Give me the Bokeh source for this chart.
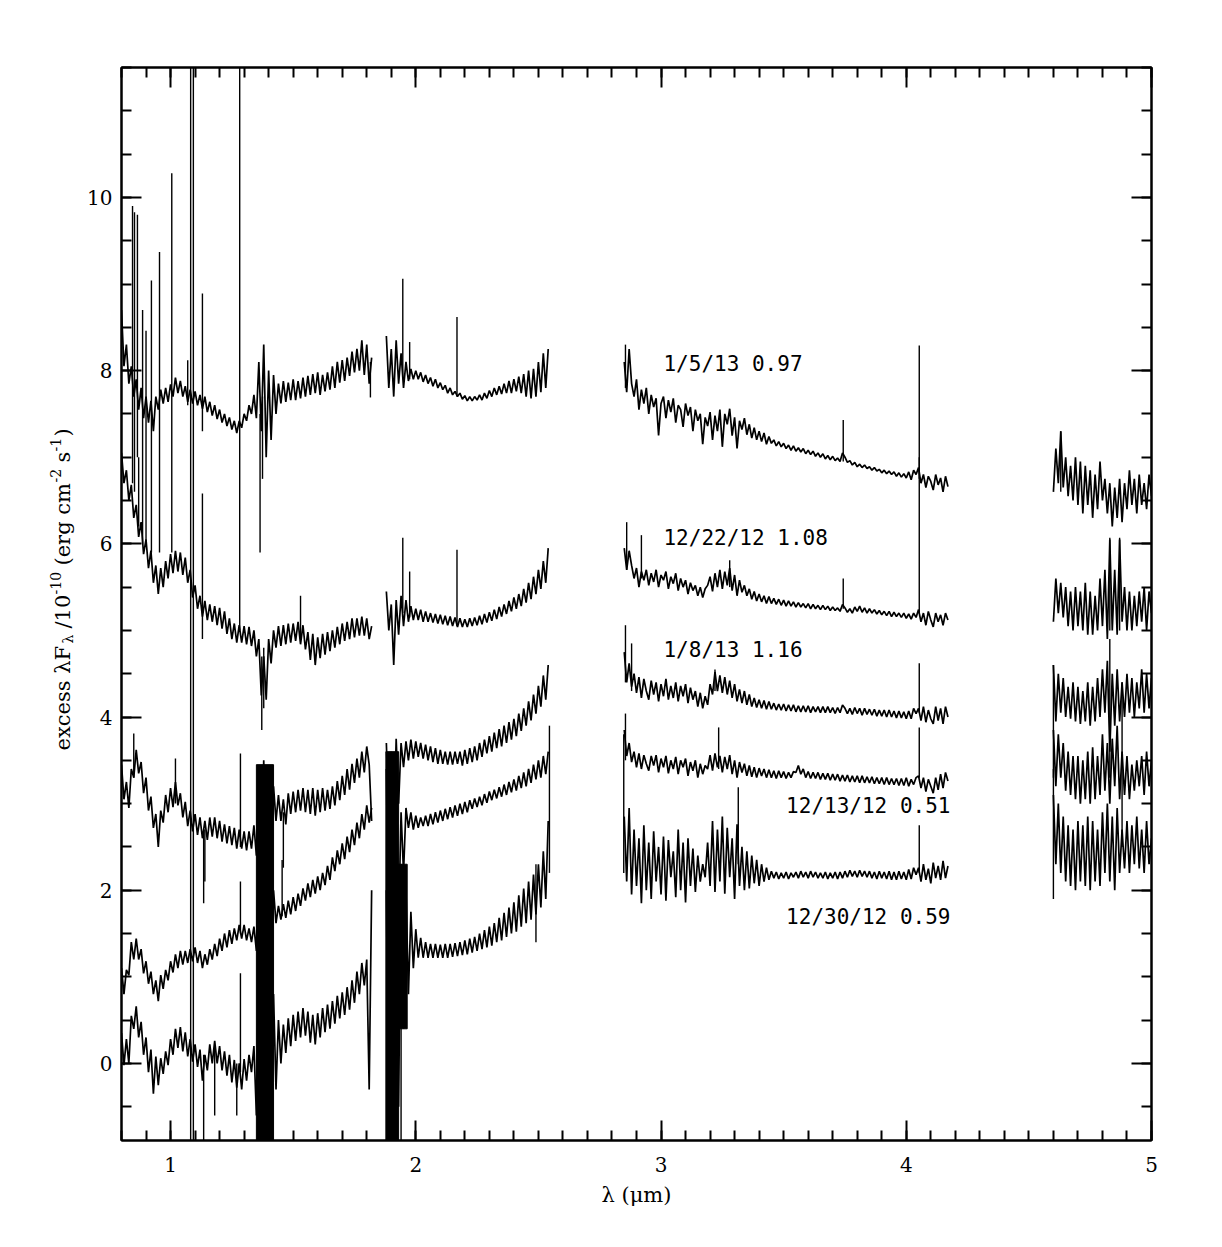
import numpy as np
from math import pi
from bokeh.plotting import figure
from bokeh.layouts import row
from bokeh.models import Range1d, LinearAxis, FixedTicker, CustomJSTickFormatter
from bokeh.core.properties import value
from bokeh.embed import file_html
from bokeh.resources import INLINE

# ---------------- data ----------------
# spectral segments: start wavelength (um) and sampling step (um)
seg_start = [0.80, 1.88, 2.85, 4.60]
seg_step = [0.01, 0.01, 0.01, 0.01]

# 1/5/13 (0.97)
jan05_s1 = [8.70, 8.05, 8.30, 7.85, 8.05, 7.70, 7.90, 7.55, 7.80, 7.45,
            7.70, 7.40, 7.65, 7.30, 7.70, 7.55, 7.78, 7.62, 7.80, 7.64,
            7.84, 7.70, 7.92, 7.74, 7.88, 7.70, 7.82, 7.64, 7.78, 7.62,
            7.76, 7.60, 7.72, 7.56, 7.70, 7.52, 7.64, 7.48, 7.60, 7.44,
            7.55, 7.40, 7.50, 7.36, 7.46, 7.32, 7.42, 7.28, 7.42, 7.34,
            7.50, 7.42, 7.60, 7.50, 7.72, 7.45, 8.10, 7.30, 8.30, 7.00,
            8.00, 7.20, 7.95, 7.50, 7.85, 7.62, 7.88, 7.64, 7.86, 7.66,
            7.90, 7.66, 7.88, 7.68, 7.92, 7.70, 7.94, 7.72, 7.96, 7.74,
            7.98, 7.72, 7.95, 7.76, 7.98, 7.78, 8.05, 7.80, 8.10, 7.86,
            8.12, 7.88, 8.15, 7.94, 8.22, 7.98, 8.25, 8.00, 8.35, 7.95,
            8.30, 7.85, 8.15]
jan05_s2 = [8.40, 7.80, 8.25, 7.70, 8.35, 7.85, 8.20, 7.80, 8.10, 7.88,
            8.02, 7.90, 8.00, 7.90, 7.98, 7.87, 7.95, 7.85, 7.92, 7.82,
            7.90, 7.80, 7.86, 7.78, 7.83, 7.74, 7.80, 7.72, 7.76, 7.70,
            7.74, 7.67, 7.71, 7.65, 7.70, 7.65, 7.70, 7.66, 7.72, 7.66,
            7.74, 7.68, 7.77, 7.70, 7.80, 7.72, 7.82, 7.73, 7.85, 7.74,
            7.88, 7.74, 7.90, 7.76, 7.93, 7.74, 7.96, 7.70, 8.00, 7.68,
            8.02, 7.70, 8.10, 7.75, 8.20, 7.80, 8.25]
jan05_s3 = [8.10, 7.75, 8.25, 7.85, 7.70, 7.90, 7.55, 7.78, 7.62, 7.80,
            7.50, 7.72, 7.58, 7.68, 7.25, 7.62, 7.70, 7.45, 7.66, 7.52,
            7.68, 7.40, 7.60, 7.55, 7.35, 7.62, 7.48, 7.58, 7.30, 7.55,
            7.42, 7.50, 7.15, 7.46, 7.36, 7.52, 7.20, 7.48, 7.30, 7.55,
            7.12, 7.50, 7.38, 7.56, 7.25, 7.46, 7.10, 7.42, 7.32, 7.45,
            7.26, 7.38, 7.22, 7.34, 7.20, 7.30, 7.18, 7.28, 7.15, 7.24,
            7.16, 7.20, 7.13, 7.18, 7.12, 7.16, 7.10, 7.14, 7.08, 7.13,
            7.07, 7.11, 7.06, 7.10, 7.04, 7.08, 7.03, 7.07, 7.01, 7.05,
            7.00, 7.04, 6.98, 7.02, 6.97, 7.01, 6.96, 6.99, 6.95, 7.05,
            7.00, 6.94, 6.96, 6.91, 6.94, 6.89, 6.92, 6.88, 6.91, 6.87,
            6.89, 6.85, 6.88, 6.84, 6.86, 6.82, 6.85, 6.81, 6.84, 6.80,
            6.83, 6.78, 6.82, 6.77, 6.81, 6.76, 6.83, 6.74, 6.85, 6.80,
            6.88, 6.70, 6.80, 6.65, 6.78, 6.72, 6.62, 6.80, 6.68, 6.76,
            6.60, 6.78, 6.66]
jan05_s4 = [6.60, 7.10, 6.70, 7.30, 6.65, 7.00, 6.55, 6.90, 6.50, 7.00,
            6.45, 6.95, 6.35, 6.90, 6.45, 6.85, 6.30, 6.80, 6.40, 6.95,
            6.50, 6.75, 6.35, 6.70, 6.20, 6.65, 6.30, 6.75, 6.25, 6.70,
            6.40, 6.85, 6.45, 6.75, 6.35, 6.80, 6.45, 6.70, 6.40, 6.80,
            6.55]

# 12/22/12 (1.08)
dec22_s1 = [7.05, 6.70, 6.85, 6.50, 6.68, 6.30, 6.45, 6.08, 6.25, 5.88,
            6.05, 5.72, 5.92, 5.55, 5.75, 5.42, 5.72, 5.50, 5.80, 5.60,
            5.88, 5.66, 5.92, 5.68, 5.90, 5.64, 5.84, 5.55, 5.70, 5.38,
            5.52, 5.25, 5.40, 5.16, 5.34, 5.12, 5.30, 5.10, 5.28, 5.06,
            5.26, 5.02, 5.22, 4.96, 5.14, 4.90, 5.08, 4.86, 5.06, 4.86,
            5.05, 4.84, 5.04, 4.82, 5.00, 4.70, 4.90, 4.25, 4.70, 4.20,
            4.90, 4.62, 5.00, 4.80, 5.05, 4.82, 5.06, 4.84, 5.08, 4.86,
            5.08, 4.88, 5.10, 4.84, 5.06, 4.78, 4.98, 4.66, 4.96, 4.60,
            4.92, 4.68, 4.96, 4.72, 4.98, 4.76, 5.00, 4.80, 5.04, 4.84,
            5.08, 4.88, 5.10, 4.90, 5.14, 4.92, 5.14, 4.94, 5.16, 4.94,
            5.14, 4.90, 5.05]
dec22_s2 = [5.45, 5.00, 5.30, 4.60, 5.35, 4.95, 5.40, 5.05, 5.35, 5.10,
            5.28, 5.12, 5.25, 5.12, 5.24, 5.10, 5.22, 5.10, 5.20, 5.09,
            5.19, 5.08, 5.18, 5.07, 5.17, 5.06, 5.16, 5.05, 5.15, 5.04,
            5.14, 5.04, 5.13, 5.04, 5.14, 5.05, 5.15, 5.06, 5.17, 5.07,
            5.19, 5.09, 5.21, 5.11, 5.24, 5.13, 5.27, 5.16, 5.30, 5.19,
            5.34, 5.22, 5.38, 5.25, 5.42, 5.28, 5.48, 5.32, 5.55, 5.36,
            5.62, 5.42, 5.70, 5.48, 5.80, 5.55, 5.95]
dec22_s3 = [5.95, 5.70, 5.92, 5.75, 5.60, 5.72, 5.50, 5.68, 5.58, 5.70,
            5.52, 5.66, 5.56, 5.70, 5.50, 5.64, 5.58, 5.68, 5.48, 5.62,
            5.54, 5.66, 5.46, 5.60, 5.50, 5.58, 5.42, 5.55, 5.46, 5.52,
            5.40, 5.50, 5.38, 5.48, 5.52, 5.62, 5.45, 5.66, 5.50, 5.70,
            5.48, 5.68, 5.52, 5.72, 5.46, 5.64, 5.40, 5.58, 5.44, 5.52,
            5.40, 5.48, 5.36, 5.45, 5.34, 5.42, 5.33, 5.40, 5.31, 5.39,
            5.31, 5.37, 5.30, 5.36, 5.29, 5.35, 5.28, 5.34, 5.28, 5.33,
            5.27, 5.32, 5.27, 5.31, 5.26, 5.31, 5.25, 5.30, 5.25, 5.29,
            5.24, 5.29, 5.24, 5.28, 5.23, 5.27, 5.23, 5.26, 5.22, 5.30,
            5.26, 5.21, 5.25, 5.20, 5.27, 5.22, 5.28, 5.21, 5.26, 5.20,
            5.25, 5.20, 5.24, 5.19, 5.23, 5.18, 5.22, 5.17, 5.22, 5.16,
            5.21, 5.16, 5.20, 5.15, 5.20, 5.14, 5.19, 5.13, 5.20, 5.15,
            5.24, 5.10, 5.20, 5.06, 5.22, 5.12, 5.04, 5.20, 5.10, 5.18,
            5.06, 5.20, 5.12]
dec22_s4 = [5.10, 5.60, 5.20, 5.55, 5.15, 5.50, 5.05, 5.45, 5.00, 5.50,
            5.05, 5.45, 5.00, 5.55, 4.95, 5.45, 4.95, 5.40, 5.00, 5.60,
            5.05, 5.70, 4.90, 6.05, 5.00, 5.70, 4.95, 6.05, 5.10, 5.50,
            5.00, 5.45, 5.00, 5.40, 5.05, 5.45, 5.10, 5.50, 5.00, 5.45,
            5.20]

# 1/8/13 (1.16)
jan08_s1 = [3.45, 3.05, 3.25, 2.95, 3.40, 3.30, 3.62, 3.35, 3.48, 3.12,
            3.30, 2.92, 3.08, 2.72, 2.88, 2.50, 2.92, 2.78, 3.10, 2.90,
            3.18, 2.96, 3.25, 2.98, 3.12, 2.84, 3.02, 2.74, 2.92, 2.68,
            2.88, 2.64, 2.84, 2.60, 2.80, 2.58, 2.84, 2.62, 2.84, 2.60,
            2.80, 2.56, 2.76, 2.54, 2.74, 2.52, 2.72, 2.48, 2.70, 2.48,
            2.68, 2.46, 2.68, 2.48, 2.75, 2.40, 3.40, 2.20, 3.50, 2.30,
            3.30, 2.40, 3.20, 2.80, 3.10, 2.80, 3.05, 2.76, 3.12, 2.88,
            3.14, 2.90, 3.16, 2.92, 3.18, 2.90, 3.16, 2.88, 3.18, 2.86,
            3.16, 2.90, 3.18, 2.92, 3.16, 2.94, 3.20, 2.98, 3.26, 3.04,
            3.32, 3.10, 3.40, 3.16, 3.46, 3.24, 3.52, 3.30, 3.60, 3.36,
            3.66, 3.45, 2.80]
jan08_s2 = [3.70, 2.80, 3.60, 2.60, 3.75, 3.00, 3.70, 3.42, 3.72, 3.50,
            3.74, 3.52, 3.72, 3.54, 3.70, 3.52, 3.68, 3.50, 3.66, 3.48,
            3.64, 3.46, 3.62, 3.46, 3.60, 3.45, 3.60, 3.45, 3.60, 3.46,
            3.60, 3.44, 3.62, 3.46, 3.64, 3.48, 3.66, 3.50, 3.70, 3.54,
            3.74, 3.58, 3.78, 3.60, 3.82, 3.64, 3.86, 3.66, 3.90, 3.70,
            3.94, 3.74, 3.98, 3.78, 4.04, 3.84, 4.10, 3.90, 4.18, 3.96,
            4.26, 4.04, 4.36, 4.12, 4.48, 4.20, 4.60]
jan08_s3 = [4.75, 4.40, 4.62, 4.35, 4.50, 4.28, 4.46, 4.22, 4.44, 4.30,
            4.20, 4.42, 4.26, 4.40, 4.18, 4.38, 4.24, 4.44, 4.20, 4.36,
            4.22, 4.40, 4.18, 4.36, 4.24, 4.38, 4.16, 4.34, 4.20, 4.30,
            4.12, 4.28, 4.10, 4.24, 4.14, 4.38, 4.26, 4.52, 4.30, 4.48,
            4.28, 4.46, 4.26, 4.42, 4.22, 4.38, 4.18, 4.32, 4.16, 4.30,
            4.14, 4.26, 4.12, 4.22, 4.11, 4.20, 4.10, 4.19, 4.09, 4.18,
            4.09, 4.16, 4.08, 4.15, 4.08, 4.15, 4.07, 4.14, 4.07, 4.14,
            4.06, 4.13, 4.06, 4.13, 4.06, 4.13, 4.05, 4.12, 4.06, 4.12,
            4.05, 4.12, 4.05, 4.12, 4.05, 4.11, 4.04, 4.11, 4.05, 4.14,
            4.10, 4.04, 4.10, 4.03, 4.11, 4.04, 4.10, 4.02, 4.10, 4.03,
            4.09, 4.02, 4.09, 4.01, 4.08, 4.01, 4.08, 4.00, 4.08, 4.00,
            4.07, 3.99, 4.07, 3.99, 4.06, 3.98, 4.07, 3.98, 4.10, 4.04,
            4.10, 3.96, 4.12, 3.94, 4.08, 3.98, 3.92, 4.12, 3.96, 4.10,
            3.92, 4.12, 4.00]
jan08_s4 = [4.60, 3.95, 4.50, 4.05, 4.45, 4.00, 4.35, 3.98, 4.40, 3.95,
            4.35, 3.92, 4.30, 3.95, 4.40, 3.90, 4.35, 3.95, 4.45, 4.00,
            4.55, 4.05, 4.65, 3.60, 4.50, 3.90, 4.55, 3.95, 4.40, 4.00,
            4.50, 4.05, 4.45, 4.00, 4.40, 4.10, 4.55, 4.05, 4.50, 4.10,
            4.45]

# 12/13/12 (0.51)
dec13_s1 = [1.10, 0.80, 1.08, 1.02, 1.40, 1.20, 1.44, 1.20, 1.32, 1.04,
            1.18, 0.92, 1.06, 0.80, 0.96, 0.72, 1.02, 0.86, 1.08, 0.96,
            1.18, 1.05, 1.26, 1.10, 1.30, 1.14, 1.30, 1.16, 1.32, 1.18,
            1.34, 1.16, 1.30, 1.10, 1.26, 1.14, 1.32, 1.20, 1.38, 1.24,
            1.44, 1.30, 1.50, 1.34, 1.54, 1.38, 1.56, 1.42, 1.60, 1.44,
            1.60, 1.42, 1.56, 1.40, 1.58, 1.30, 2.40, 1.00, 2.60, 0.90,
            2.30, 1.20, 2.00, 1.62, 1.82, 1.66, 1.84, 1.68, 1.88, 1.72,
            1.92, 1.76, 1.96, 1.82, 2.02, 1.88, 2.08, 1.92, 2.12, 1.96,
            2.16, 2.00, 2.20, 2.06, 2.28, 2.12, 2.38, 2.22, 2.46, 2.30,
            2.54, 2.36, 2.62, 2.44, 2.70, 2.52, 2.78, 2.60, 2.88, 2.70,
            2.98, 2.78, 2.95]
dec13_s2 = [3.40, 1.20, 3.30, 1.00, 3.20, 1.60, 2.90, 2.20, 2.95, 2.72,
            2.90, 2.70, 2.86, 2.72, 2.84, 2.74, 2.86, 2.74, 2.88, 2.76,
            2.90, 2.78, 2.92, 2.80, 2.94, 2.82, 2.96, 2.84, 2.98, 2.86,
            3.00, 2.88, 3.02, 2.90, 3.04, 2.94, 3.06, 2.96, 3.08, 2.98,
            3.11, 3.01, 3.14, 3.04, 3.16, 3.06, 3.19, 3.08, 3.22, 3.10,
            3.25, 3.13, 3.28, 3.15, 3.32, 3.18, 3.36, 3.20, 3.40, 3.24,
            3.45, 3.28, 3.50, 3.30, 3.55, 3.34, 3.60]
dec13_s3 = [3.85, 3.55, 3.70, 3.48, 3.60, 3.42, 3.58, 3.40, 3.56, 3.46,
            3.38, 3.55, 3.44, 3.56, 3.36, 3.52, 3.42, 3.55, 3.35, 3.50,
            3.40, 3.54, 3.34, 3.50, 3.42, 3.52, 3.32, 3.48, 3.38, 3.50,
            3.30, 3.46, 3.34, 3.44, 3.40, 3.56, 3.38, 3.58, 3.42, 3.55,
            3.36, 3.54, 3.40, 3.56, 3.34, 3.50, 3.30, 3.48, 3.36, 3.46,
            3.32, 3.44, 3.31, 3.42, 3.30, 3.41, 3.32, 3.40, 3.30, 3.39,
            3.30, 3.38, 3.29, 3.38, 3.30, 3.37, 3.29, 3.36, 3.30, 3.37,
            3.36, 3.44, 3.34, 3.40, 3.30, 3.37, 3.29, 3.36, 3.29, 3.36,
            3.28, 3.35, 3.28, 3.35, 3.27, 3.34, 3.27, 3.34, 3.26, 3.33,
            3.26, 3.33, 3.25, 3.32, 3.25, 3.32, 3.24, 3.32, 3.24, 3.31,
            3.24, 3.31, 3.23, 3.30, 3.23, 3.30, 3.22, 3.30, 3.22, 3.29,
            3.22, 3.29, 3.21, 3.29, 3.21, 3.30, 3.20, 3.28, 3.22, 3.30,
            3.32, 3.18, 3.30, 3.14, 3.28, 3.20, 3.12, 3.30, 3.16, 3.34,
            3.18, 3.36, 3.26]
dec13_s4 = [3.85, 3.20, 3.80, 3.30, 3.70, 3.15, 3.60, 3.10, 3.55, 3.05,
            3.55, 3.00, 3.50, 3.05, 3.60, 3.00, 3.65, 3.05, 3.55, 3.10,
            3.80, 3.15, 3.70, 3.00, 3.75, 3.20, 3.90, 3.05, 3.60, 3.10,
            3.55, 3.05, 3.45, 3.15, 3.50, 3.20, 3.55, 3.10, 3.60, 3.20,
            3.50]

# 12/30/12 (0.59)
dec30_s1 = [0.35, -0.02, 0.28, 0.00, 0.55, 0.40, 0.66, 0.30, 0.48, 0.10,
            0.30, -0.10, 0.16, -0.35, 0.08, -0.25, 0.06, -0.12, 0.14, -0.02,
            0.28, 0.10, 0.40, 0.18, 0.42, 0.14, 0.36, 0.08, 0.28, 0.02,
            0.22, -0.04, 0.16, -0.20, 0.10, -0.08, 0.22, 0.00, 0.26, 0.00,
            0.20, -0.08, 0.14, -0.14, 0.10, -0.22, 0.04, -0.28, 0.00, -0.30,
            0.05, -0.20, 0.10, -0.10, 0.20, -0.60, 1.20, -0.90, 1.40, -0.90,
            1.10, -0.90, 0.80, -0.30, 0.50, 0.00, 0.45, 0.12, 0.52, 0.20,
            0.56, 0.26, 0.60, 0.30, 0.64, 0.32, 0.60, 0.24, 0.56, 0.22,
            0.58, 0.30, 0.64, 0.36, 0.68, 0.40, 0.72, 0.46, 0.78, 0.52,
            0.82, 0.56, 0.88, 0.62, 0.96, 0.70, 1.06, 0.80, 1.16, 0.90,
            1.20, -0.30, 2.00]
dec30_s2 = [2.00, -0.90, 2.20, -0.90, 1.80, -0.50, 2.30, 0.40, 2.00, 0.80,
            1.75, 1.10, 1.55, 1.22, 1.45, 1.22, 1.40, 1.22, 1.38, 1.22,
            1.38, 1.22, 1.37, 1.22, 1.38, 1.22, 1.38, 1.23, 1.39, 1.24,
            1.40, 1.25, 1.42, 1.26, 1.44, 1.28, 1.46, 1.30, 1.50, 1.32,
            1.54, 1.34, 1.58, 1.36, 1.62, 1.40, 1.68, 1.42, 1.74, 1.46,
            1.80, 1.50, 1.86, 1.52, 1.94, 1.58, 2.02, 1.62, 2.10, 1.66,
            2.18, 1.72, 2.30, 1.80, 2.45, 1.90, 2.80]
dec30_s3 = [2.85, 2.10, 2.95, 1.95, 2.70, 2.05, 2.60, 1.85, 2.75, 2.00,
            2.55, 1.90, 2.68, 2.10, 2.50, 1.95, 2.62, 1.88, 2.58, 2.15,
            2.45, 1.92, 2.70, 2.00, 2.55, 1.86, 2.60, 2.05, 2.48, 1.98,
            2.40, 2.10, 2.30, 2.15, 2.55, 2.05, 2.80, 1.98, 2.70, 2.10,
            2.85, 1.96, 2.72, 2.15, 2.60, 1.90, 2.76, 2.05, 2.50, 2.00,
            2.45, 2.02, 2.40, 2.08, 2.35, 2.05, 2.30, 2.10, 2.26, 2.12,
            2.22, 2.14, 2.21, 2.13, 2.20, 2.14, 2.21, 2.13, 2.20, 2.15,
            2.21, 2.14, 2.22, 2.15, 2.21, 2.14, 2.22, 2.15, 2.21, 2.14,
            2.20, 2.14, 2.21, 2.13, 2.20, 2.14, 2.21, 2.13, 2.21, 2.14,
            2.22, 2.15, 2.23, 2.16, 2.22, 2.15, 2.23, 2.16, 2.22, 2.15,
            2.22, 2.14, 2.21, 2.13, 2.22, 2.14, 2.21, 2.13, 2.22, 2.12,
            2.21, 2.12, 2.22, 2.13, 2.21, 2.12, 2.24, 2.13, 2.26, 2.18,
            2.26, 2.10, 2.30, 2.12, 2.25, 2.08, 2.32, 2.14, 2.28, 2.12,
            2.34, 2.14, 2.28]
dec30_s4 = [3.10, 2.30, 3.00, 2.20, 2.85, 2.10, 2.75, 2.05, 2.70, 2.00,
            2.80, 2.10, 2.75, 2.05, 2.85, 2.00, 2.80, 2.10, 2.70, 2.05,
            2.90, 2.20, 3.00, 2.10, 2.85, 2.00, 2.95, 2.20, 2.70, 2.25,
            2.80, 2.20, 2.75, 2.30, 2.85, 2.25, 2.70, 2.20, 2.80, 2.30,
            2.60]

# narrow emission / artefact lines: wavelength, low end, high end
jan05_line_x = [0.845, 0.853, 0.865, 0.886, 0.900, 0.922, 0.955, 1.005, 1.070, 1.082, 1.093,
                1.130, 1.282, 1.365, 1.375, 1.815, 1.947, 1.975, 2.168, 2.855, 3.743, 4.053, 4.630]
jan05_line_lo = [6.70, 6.60, 7.00, 6.00, 6.00, 5.90, 5.90, 5.90, 7.60, -1.00, -1.00,
                 7.30, 5.00, 5.90, 6.75, 7.69, 7.90, 7.90, 7.70, 7.80, 6.95, 6.75, 6.60]
jan05_line_hi = [9.90, 9.83, 9.80, 8.70, 8.46, 9.04, 9.37, 10.28, 8.12, 12.0, 12.0,
                 8.89, 12.0, 7.50, 7.70, 8.10, 9.06, 8.33, 8.62, 8.30, 7.43, 8.29, 7.30]
dec22_line_x = [0.870, 1.130, 1.372, 1.380, 1.530, 1.947, 1.975, 2.168, 2.860, 2.920,
                3.280, 3.743, 4.053, 4.830, 4.870]
dec22_line_lo = [6.20, 4.90, 3.85, 4.10, 4.90, 5.20, 5.15, 5.05, 5.70, 5.60,
                 5.50, 5.25, 5.20, 5.00, 5.00]
dec22_line_hi = [7.00, 6.58, 4.70, 4.80, 5.40, 6.07, 5.68, 5.93, 6.25, 6.10,
                 5.81, 5.60, 7.00, 6.07, 6.07]
jan08_line_x = [0.850, 1.020, 1.135, 1.140, 1.285, 1.460, 2.855, 2.880, 3.220, 4.053, 4.830]
jan08_line_lo = [3.30, 3.00, 1.85, 2.10, 2.50, 2.26, 4.40, 4.30, 4.30, 4.05, 3.30]
jan08_line_hi = [3.81, 3.52, 2.70, 2.70, 3.58, 2.90, 5.06, 4.85, 4.55, 4.62, 4.90]
dec13_line_x = [1.285, 1.455, 2.855, 3.235, 4.053, 4.600]
dec13_line_lo = [1.50, 1.70, 3.50, 3.40, 3.30, 3.30]
dec13_line_hi = [2.10, 2.35, 4.04, 3.88, 3.88, 4.60]
dec30_line_x = [1.135, 1.180, 1.270, 1.285, 1.920, 1.940, 2.490, 2.545, 2.848, 3.315, 4.053, 4.600, 4.880]
dec30_line_lo = [-0.90, -0.60, -0.60, -0.10, -0.90, -0.90, 1.40, 2.20, 2.20, 2.30, 2.20, 1.90, 2.50]
dec30_line_hi = [0.10, 0.20, 0.00, 1.04, 1.00, 0.80, 2.30, 3.90, 3.80, 3.19, 2.75, 3.40, 4.40]

# saturated (telluric) noise blocks: left, right, bottom, top
band_left = [1.350, 1.878, 1.930]
band_right = [1.420, 1.930, 1.965]
band_bottom = [-1.0, -1.0, 0.40]
band_top = [3.45, 3.60, 2.30]

# annotations
label_text = ["1/5/13 0.97", "12/22/12 1.08", "1/8/13 1.16", "12/13/12 0.51", "12/30/12 0.59"]
label_x = [3.01, 3.01, 3.01, 3.51, 3.51]
label_y = [8.08, 6.07, 4.77, 2.97, 1.69]

x_major = [1, 2, 3, 4, 5]
y_major = [0, 2, 4, 6, 8, 10]

# y-axis title pieces
ytitle_text = ["excess λF", "λ", "/10", "-10", "(erg cm", "-2", "s", "-1", ")"]

# ---------------- main figure ----------------
W_LEFT = 80
p = figure(width=1222 - W_LEFT, height=1247, output_backend="svg", toolbar_location=None,
           x_range=Range1d(0.8, 5.0), y_range=Range1d(-0.89, 11.5),
           min_border_left=121 - W_LEFT, min_border_right=71, min_border_top=67, min_border_bottom=107)
p.grid.visible = False
p.outline_line_color = "black"
p.outline_line_width = 2
p.background_fill_color = "white"
p.border_fill_color = "white"

x_minor = [round(0.8 + 0.1 * i, 2) for i in range(43)]
y_minor = [round(-0.5 + 0.5 * i, 2) for i in range(25)]

def style_axis(ax, ticks, minor, show_labels):
    ax.ticker = FixedTicker(ticks=ticks, minor_ticks=minor)
    ax.axis_line_width = 2
    ax.major_tick_in = 20
    ax.major_tick_out = 0
    ax.minor_tick_in = 10
    ax.minor_tick_out = 0
    ax.major_tick_line_width = 2
    ax.minor_tick_line_width = 2
    ax.major_label_text_font = "DejaVu Serif"
    ax.major_label_text_font_size = "20px"
    ax.major_label_text_color = "black"
    if not show_labels:
        ax.formatter = CustomJSTickFormatter(code="return ''")

style_axis(p.xaxis[0], x_major, x_minor, True)
style_axis(p.yaxis[0], y_major, y_minor, True)
p.xaxis[0].major_label_standoff = 16
p.yaxis[0].major_label_standoff = 9
p.xaxis[0].axis_label = "λ (μm)"
p.xaxis[0].axis_label_text_font = "DejaVu Serif"
p.xaxis[0].axis_label_text_font_style = "normal"
p.xaxis[0].axis_label_text_font_size = "21px"
p.xaxis[0].axis_label_text_color = "black"
p.xaxis[0].axis_label_standoff = 8

top_ax = LinearAxis()
style_axis(top_ax, x_major, x_minor, False)
p.add_layout(top_ax, "above")
right_ax = LinearAxis()
style_axis(right_ax, y_major, y_minor, False)
p.add_layout(right_ax, "right")

p.quad(left=band_left, right=band_right, bottom=band_bottom, top=band_top,
       fill_color="black", line_color="black", line_width=1)

spectra = [
    [jan05_s1, jan05_s2, jan05_s3, jan05_s4],
    [dec22_s1, dec22_s2, dec22_s3, dec22_s4],
    [jan08_s1, jan08_s2, jan08_s3, jan08_s4],
    [dec13_s1, dec13_s2, dec13_s3, dec13_s4],
    [dec30_s1, dec30_s2, dec30_s3, dec30_s4],
]
for segs in spectra:
    for start, step, vals in zip(seg_start, seg_step, segs):
        xs = start + step * np.arange(len(vals))
        p.line(xs, vals, line_color="black", line_width=1.7)

lines = [
    (jan05_line_x, jan05_line_lo, jan05_line_hi),
    (dec22_line_x, dec22_line_lo, dec22_line_hi),
    (jan08_line_x, jan08_line_lo, jan08_line_hi),
    (dec13_line_x, dec13_line_lo, dec13_line_hi),
    (dec30_line_x, dec30_line_lo, dec30_line_hi),
]
for lx, lo, hi in lines:
    p.segment(x0=lx, y0=lo, x1=lx, y1=hi, line_color="black", line_width=1.4)

p.text(x=label_x, y=label_y, text=label_text, text_font=value("DejaVu Sans Mono"),
       text_font_size="21px", text_baseline="middle", text_align="left", text_color="black")

# ---------------- left strip carrying the rotated y-axis title ----------------
# the row layout aligns this strip's frame with the main frame (page y 67..1140),
# so its y range is set up to read directly as (1247 - page y)
H = 1247
q = figure(width=W_LEFT, height=H, output_backend="svg", toolbar_location=None,
           x_range=Range1d(0, W_LEFT), y_range=Range1d(H - 1140, H - 67),
           x_axis_location=None, y_axis_location=None,
           min_border=0, min_border_left=0, min_border_right=0, min_border_top=67, min_border_bottom=107)
q.grid.visible = False
q.outline_line_color = None
q.background_fill_color = "white"
q.border_fill_color = "white"

# page-pixel positions of each piece: centre x, start (bottom) y, font size
piece_x = [62, 67, 62, 55, 62, 55, 62, 55, 62]
piece_py = [750, 643, 628, 594, 565, 482, 462, 451, 436]
piece_size = ["21px", "14px", "21px", "14px", "21px", "14px", "21px", "14px", "21px"]
q.text(x=piece_x, y=[H - v for v in piece_py], text=ytitle_text, angle=pi / 2,
       text_font=value("DejaVu Serif"), text_font_size=piece_size,
       text_baseline="middle", text_align="left", text_color="black")

layout = row(q, p, spacing=0)
open("out.html", "w").write(file_html(layout, INLINE))
